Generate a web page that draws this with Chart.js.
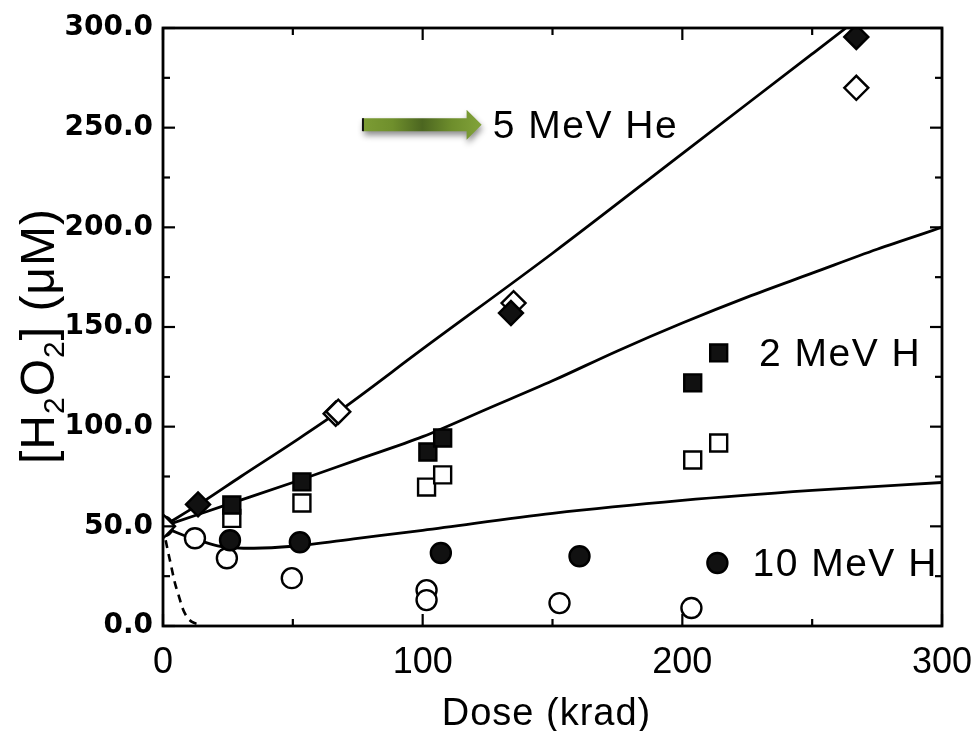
<!DOCTYPE html>
<html><head><meta charset="utf-8">
<script src="https://cdn.jsdelivr.net/npm/chart.js@4.4.0/dist/chart.umd.min.js"></script>
<style>html,body{margin:0;padding:0;background:#fff}#wrap{width:977px;height:731px;position:relative}canvas{display:block}</style>
</head><body><div id="wrap"><canvas id="c" width="977" height="731" style="width:977px;height:731px"></canvas></div>
<script>
// ---- fitted curves ----
const heFitX = [0, 15, 30, 50, 67, 100, 150, 200, 250, 263];
const heFitY = [50, 62, 75, 92, 107, 139, 187, 237, 287, 300];
const h2FitX = [0, 25, 50, 75, 100, 125, 150, 175, 200, 225, 250, 275, 300];
const h2FitY = [50, 61, 72, 83.5, 95, 109, 123, 138, 152, 165, 177, 189, 200];
const h10FitX = [0, 5, 10, 15, 22, 35, 50, 75, 100, 150, 200, 250, 300];
const h10FitY = [50, 47, 44.5, 42.5, 40, 39, 40, 44, 48, 56.5, 63, 68, 72];
const dashX = [0, 1.5, 3, 4.6, 6, 7.5, 9, 11, 15];
const dashY = [50, 40, 31, 21.5, 15.5, 9, 5, 2.2, 0.5];

// ---- measured points ----
const heFilledX = [13.5, 134, 267];
const heFilledY = [61, 157, 295.5];
const heOpenX = [0, 66.5, 67.5, 135, 267];
const heOpenY = [50, 106.5, 107.5, 162, 270];
const h2FilledX = [26.5, 53.5, 102, 107.7, 204, 214];
const h2FilledY = [60.7, 72.3, 87.3, 94.3, 122, 137];
const h2OpenX = [26.5, 53.5, 101.5, 107.7, 204, 214];
const h2OpenY = [54, 61.7, 69.7, 75.8, 83.3, 91.8];
const h10FilledX = [25.8, 52.7, 107, 160.4, 213.5];
const h10FilledY = [43, 42, 36.6, 35, 31.6];
const h10OpenX = [0, 12.3, 24.6, 49.6, 101.5, 101.5, 152.7, 203.5];
const h10OpenY = [50, 44, 34, 24, 18, 13, 11.5, 9];

// ---- axes ----
const xMajorTicks = [0, 100, 200, 300];
const xMinorTicks = [50, 150, 250];
const yMajorTicks = [0, 50, 100, 150, 200, 250, 300];
const yMinorTicks = [25, 75, 125, 175, 225, 275];
const xTitle = 'Dose (krad)';

// ---- annotations ----
const labelHe = '5 MeV He';
const label2H = '2 MeV H';
const label10H = '10 MeV H';
const labelHeAt = [127, 250];
const label2HAt = [229.5, 136];
const label10HAt = [227, 30.5];
const arrowFrom = [77, 251.5];
const arrowTo = [122.7, 251.5];

const SANS = '"Liberation Sans", Arial, Helvetica, sans-serif';

function pts(xs, ys) { return xs.map((x, i) => ({ x: x, y: ys[i] })); }

const lineDs = (xs, ys, dash) => ({
  data: pts(xs, ys), showLine: true, borderColor: '#000', borderWidth: dash ? 2.6 : 2.8,
  borderDash: dash ? [8, 6] : [], pointRadius: 0, tension: 0, cubicInterpolationMode: 'monotone',
  fill: false, order: 10
});
const markDs = (xs, ys, style, filled, r) => ({
  data: pts(xs, ys), showLine: false, pointStyle: style, pointRadius: r, pointHoverRadius: r,
  pointBackgroundColor: filled ? '#111111' : '#ffffff', pointBorderColor: '#000',
  pointBorderWidth: 2.4, order: filled ? 1 : 2
});

const decor = {
  id: 'decor',
  afterDatasetsDraw(chart) {
    const ctx = chart.ctx, a = chart.chartArea, sx = chart.scales.x, sy = chart.scales.y;
    ctx.save();
    ctx.strokeStyle = '#000';
    ctx.lineWidth = 2.8;
    ctx.strokeRect(a.left, a.top, a.right - a.left, a.bottom - a.top);
    ctx.lineWidth = 2.2;
    const seg = (x1, y1, x2, y2) => { ctx.beginPath(); ctx.moveTo(x1, y1); ctx.lineTo(x2, y2); ctx.stroke(); };
    xMajorTicks.forEach(v => { const p = sx.getPixelForValue(v); seg(p, a.bottom, p, a.bottom - 12); seg(p, a.top, p, a.top + 12); });
    xMinorTicks.forEach(v => { const p = sx.getPixelForValue(v); seg(p, a.bottom, p, a.bottom - 7); seg(p, a.top, p, a.top + 7); });
    yMajorTicks.forEach(v => { const p = sy.getPixelForValue(v); seg(a.left, p, a.left + 12, p); seg(a.right, p, a.right - 12, p); });
    yMinorTicks.forEach(v => { const p = sy.getPixelForValue(v); seg(a.left, p, a.left + 7, p); seg(a.right, p, a.right - 7, p); });

    // arrow
    const x0 = sx.getPixelForValue(arrowFrom[0]), x1 = sx.getPixelForValue(arrowTo[0]);
    const yc = sy.getPixelForValue(arrowFrom[1]);
    const sh = 6.5, hh = 15, hl = 15;
    const g = ctx.createLinearGradient(x0, 0, x1, 0);
    g.addColorStop(0, '#7c9c34'); g.addColorStop(0.25, '#6f8f2c'); g.addColorStop(0.5, '#4c6620');
    g.addColorStop(0.75, '#6e8e2c'); g.addColorStop(1, '#82a33a');
    ctx.save();
    ctx.shadowColor = 'rgba(0,0,0,0.45)'; ctx.shadowBlur = 6; ctx.shadowOffsetY = 4; ctx.shadowOffsetX = 1;
    ctx.fillStyle = g;
    ctx.beginPath();
    ctx.moveTo(x0, yc - sh); ctx.lineTo(x1 - hl, yc - sh); ctx.lineTo(x1 - hl, yc - hh);
    ctx.lineTo(x1, yc); ctx.lineTo(x1 - hl, yc + hh); ctx.lineTo(x1 - hl, yc + sh);
    ctx.lineTo(x0, yc + sh); ctx.closePath(); ctx.fill();
    ctx.restore();
    ctx.fillStyle = '#111';
    ctx.fillRect(x0 - 1, yc - sh, 2, sh * 2);

    // annotation labels
    ctx.fillStyle = '#000';
    ctx.textAlign = 'left'; ctx.textBaseline = 'middle';
    ctx.font = '39px ' + SANS;
    try { ctx.letterSpacing = '1.5px'; } catch (e) {}
    ctx.fillText(labelHe, sx.getPixelForValue(labelHeAt[0]), sy.getPixelForValue(labelHeAt[1]));
    ctx.fillText(label2H, sx.getPixelForValue(label2HAt[0]), sy.getPixelForValue(label2HAt[1]));
    ctx.fillText(label10H, sx.getPixelForValue(label10HAt[0]), sy.getPixelForValue(label10HAt[1]));

    // x title
    ctx.font = '38px ' + SANS;
    ctx.textAlign = 'center'; ctx.textBaseline = 'alphabetic';
    try { ctx.letterSpacing = '1px'; } catch (e) {}
    ctx.fillText(xTitle, (a.left + a.right) / 2 - 6, 725);

    // y title with subscripts, rotated
    ctx.translate(54, 336);
    ctx.rotate(-Math.PI / 2);
    const S = 48, s = 30;
    const parts = [['[H', S, 0], ['2', s, 10], ['O', S, 0], ['2', s, 10], [']', S, 0], [' (\u03BCM)', S, 0]];
    try { ctx.letterSpacing = '1px'; } catch (e) {}
    let total = 0;
    parts.forEach(p => { ctx.font = p[1] + 'px ' + SANS; total += ctx.measureText(p[0]).width; });
    let cx = -total / 2;
    ctx.textAlign = 'left';
    parts.forEach(p => { ctx.font = p[1] + 'px ' + SANS; ctx.fillText(p[0], cx, p[2]); cx += ctx.measureText(p[0]).width; });
    ctx.restore();
  }
};

new Chart(document.getElementById('c'), {
  type: 'scatter',
  data: {
    datasets: [
      markDs(heOpenX, heOpenY, 'rectRot', false, 12),
      markDs(heFilledX, heFilledY, 'rectRot', true, 12),
      markDs(h2OpenX, h2OpenY, 'rect', false, 12),
      markDs(h2FilledX, h2FilledY, 'rect', true, 12),
      markDs(h10OpenX, h10OpenY, 'circle', false, 10),
      markDs(h10FilledX, h10FilledY, 'circle', true, 10),
      lineDs(heFitX, heFitY, false),
      lineDs(h2FitX, h2FitY, false),
      lineDs(h10FitX, h10FitY, false),
      lineDs(dashX, dashY, true)
    ]
  },
  options: {
    responsive: false,
    animation: false,
    devicePixelRatio: 1,
    layout: { padding: { top: 28, right: 35, left: 0, bottom: 0 } },
    plugins: { legend: { display: false }, tooltip: { enabled: false } },
    scales: {
      x: {
        type: 'linear', min: 0, max: 300,
        afterFit: s => { s.height = 105; s.paddingLeft = 0; s.paddingRight = 0; },
        grid: { display: false, drawTicks: false },
        border: { display: false },
        afterBuildTicks: s => { s.ticks = xMajorTicks.map(v => ({ value: v })); },
        ticks: { padding: 15, color: '#000', font: { family: SANS, size: 36 }, callback: v => String(v), maxRotation: 0 }
      },
      y: {
        type: 'linear', min: 0, max: 300,
        afterFit: s => { s.width = 163; s.paddingTop = 0; s.paddingBottom = 0; },
        grid: { display: false, drawTicks: false },
        border: { display: false },
        afterBuildTicks: s => { s.ticks = yMajorTicks.map(v => ({ value: v })); },
        ticks: { padding: 10, color: '#000', font: { family: '"DejaVu Sans", sans-serif', size: 28, weight: 'bold' }, callback: v => Number(v).toFixed(1) }
      }
    }
  },
  plugins: [decor]
});
</script>
</body></html>
